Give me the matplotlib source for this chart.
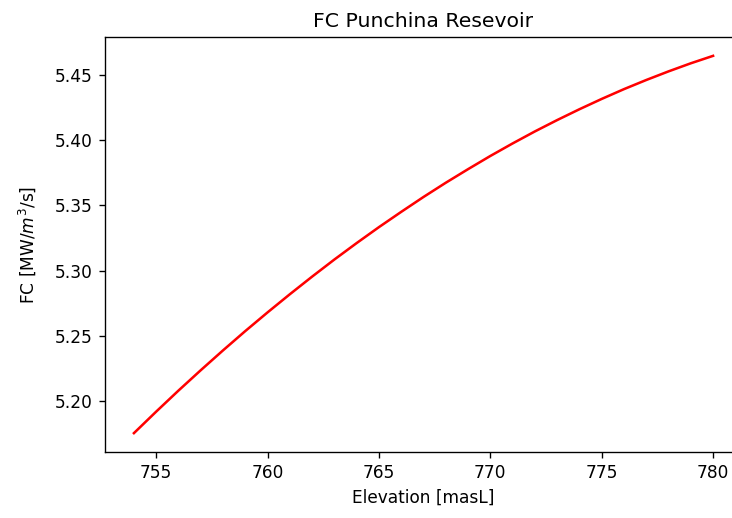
import numpy as np
import matplotlib
matplotlib.use("Agg")
import matplotlib.pyplot as plt

# elevation [masL] and conversion factor
elevation = [754, 755, 756, 757, 758, 759, 760, 761, 762, 763, 764, 765, 766, 767,
             768, 769, 770, 771, 772, 773, 774, 775, 776, 777, 778, 779, 780]
fc = [5.1755, 5.1920, 5.2081, 5.2237, 5.2389, 5.2537, 5.2680, 5.2819, 5.2954,
      5.3085, 5.3211, 5.3333, 5.3450, 5.3564, 5.3673, 5.3777, 5.3878, 5.3974,
      5.4066, 5.4153, 5.4236, 5.4315, 5.4390, 5.4460, 5.4526, 5.4588, 5.4645]

fig = plt.figure(figsize=(6.0, 518 / 122), dpi=122)
ax = fig.add_axes([0.1434, 0.1274, 0.8703, 0.8012])

ax.plot(elevation, fc, color="r")
ax.set_title("FC Punchina Resevoir")
ax.set_xlabel("Elevation [masL]")
ax.set_ylabel("FC [MW/$m^3$/s]", labelpad=10)
ax.set_xticks([755, 760, 765, 770, 775, 780])

fig.savefig("out.png", dpi=122)
